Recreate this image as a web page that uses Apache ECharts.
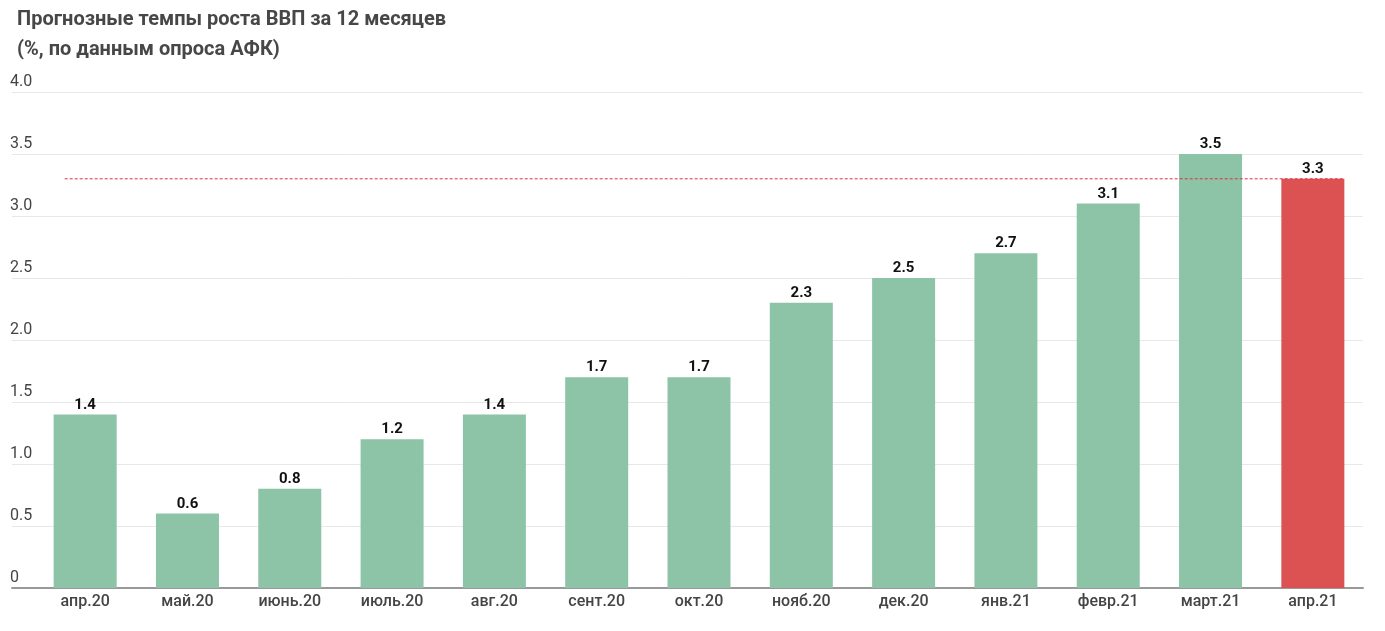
<!DOCTYPE html>
<html>
<head>
<meta charset="utf-8">
<script src="https://cdn.jsdelivr.net/npm/echarts@6/dist/echarts.min.js"></script>
<style>html,body{margin:0;padding:0;background:#fff}#c{width:1385px;height:631px}</style>
</head>
<body>
<div id="c"></div>
<script>
const titleLines = ['Прогнозные темпы роста ВВП за 12 месяцев', '(%, по данным опроса АФК)'];
const categories = ['апр.20','май.20','июнь.20','июль.20','авг.20','сент.20','окт.20','нояб.20','дек.20','янв.21','февр.21','март.21','апр.21'];
const values = [1.4, 0.6, 0.8, 1.2, 1.4, 1.7, 1.7, 2.3, 2.5, 2.7, 3.1, 3.5, 3.3];
const highlightIndex = 12;
const referenceValue = 3.3;
const referenceSpan = [-0.2, 12.3];
const yMin = 0, yMax = 4, yStep = 0.5;

const GREEN = '#8dc3a7', RED = '#dc5252';
const font = 'Roboto, "Noto Sans", sans-serif';

const chart = echarts.init(document.getElementById('c'), null, {renderer: 'canvas'});
chart.setOption({
  animation: false,
  backgroundColor: '#fff',
  title: {
    text: titleLines.join('\n'),
    left: 12, top: 0,
    textStyle: {fontFamily: font, fontSize: 20, fontWeight: 'bold', color: '#474747', lineHeight: 30}
  },
  grid: [
    {left: 12, right: 22, top: 92, bottom: 43},
    {left: 34, right: 21, top: 92, bottom: 43}
  ],
  xAxis: [
    {gridIndex: 0, type: 'value', min: 0, max: 1, axisLine: {show: true, onZero: false, lineStyle: {color: '#999', width: 2}},
     axisTick: {show: false}, axisLabel: {show: false}, splitLine: {show: false}},
    {gridIndex: 1, type: 'category', data: categories, axisLine: {show: false}, axisTick: {show: false},
     axisLabel: {fontFamily: font, fontSize: 16, fontWeight: 500, color: '#444', margin: 6}},
    {gridIndex: 1, type: 'value', min: -0.5, max: categories.length - 0.5, show: false}
  ],
  yAxis: [
    {gridIndex: 0, type: 'value', min: yMin, max: yMax, interval: yStep,
     axisLine: {show: false}, axisTick: {show: false},
     splitLine: {lineStyle: {color: '#e8e8e8', width: 1}},
     axisLabel: {align: 'left', margin: 2, verticalAlign: 'bottom', padding: [0, 0, 2, 0],
       fontFamily: font, fontSize: 16, color: '#444',
       formatter: v => v === 0 ? '0' : v.toFixed(1)}},
    {gridIndex: 1, type: 'value', min: yMin, max: yMax, interval: yStep, show: false}
  ],
  series: [
    {type: 'bar', xAxisIndex: 1, yAxisIndex: 1, barWidth: 63,
     data: values.map((v, i) => ({value: v, itemStyle: {color: i === highlightIndex ? RED : GREEN}})),
     label: {show: true, position: 'top', distance: 2, fontFamily: font, fontSize: 15, fontWeight: 'bold', color: '#111',
       formatter: p => p.value.toFixed(1)}},
    {type: 'line', xAxisIndex: 2, yAxisIndex: 1, symbol: 'none', silent: true, z: 5,
     data: referenceSpan.map(x => [x, referenceValue]),
     lineStyle: {color: '#d9333f', width: 1, type: [3, 2]}}
  ]
});
</script>
</body>
</html>
